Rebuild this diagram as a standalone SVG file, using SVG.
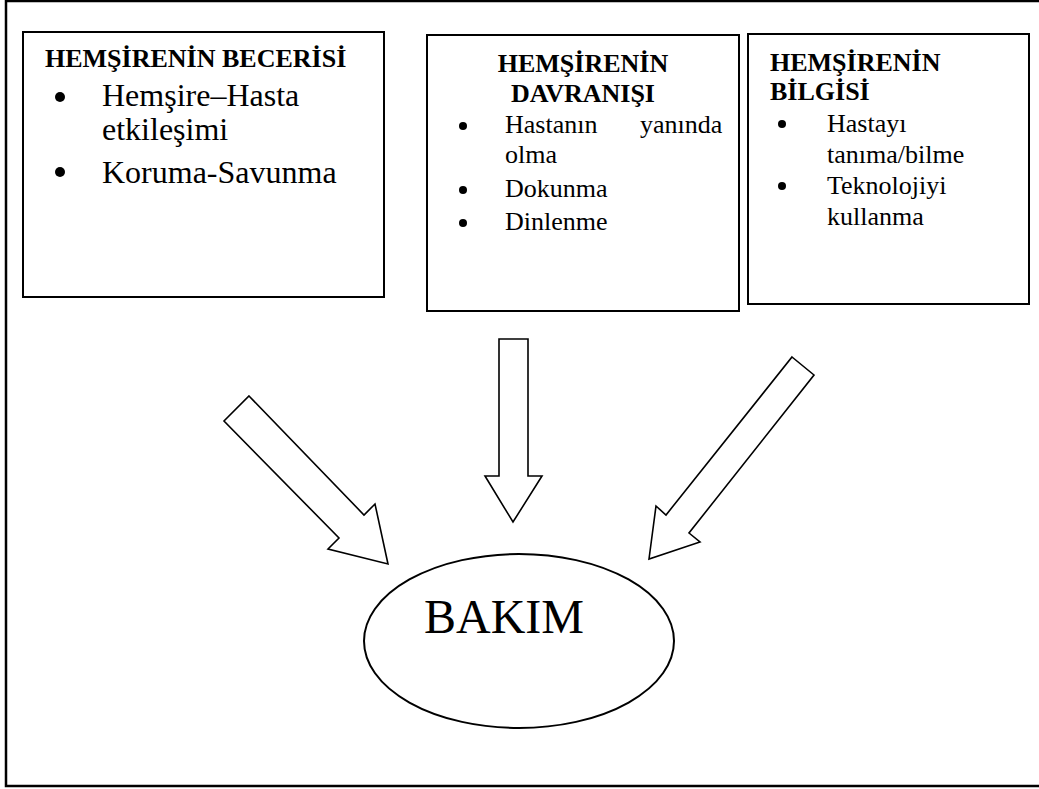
<svg xmlns="http://www.w3.org/2000/svg" width="1039" height="789" viewBox="0 0 1039 789">
<style>
.frame{fill:none;stroke:#000;stroke-width:2.5}
.box{fill:#fff;stroke:#000;stroke-width:2}
.arrow{fill:#fff;stroke:#000;stroke-width:1.6;stroke-linejoin:miter}
text{font-family:'Liberation Serif','Times New Roman',serif;fill:#000}
.title{font-weight:bold;font-size:26px}
.item{font-size:26px}
.big{font-size:32px}
.dot{fill:#000}
</style>
<rect width="1039" height="789" fill="#fff"/>
<rect class="frame" x="6" y="1" width="1036" height="785"/>

<g id="node-beceri">
<rect class="box" x="23" y="32" width="361" height="265"/>
<text class="title" x="45" y="67">HEMŞİRENİN BECERİSİ</text>
<circle class="dot" cx="60" cy="97" r="5"/>
<text class="big" x="102" y="106">Hemşire–Hasta</text>
<text class="big" x="102" y="140">etkileşimi</text>
<circle class="dot" cx="60" cy="172" r="5"/>
<text class="big" x="102" y="183">Koruma-Savunma</text>
</g>

<g id="node-davranis">
<rect class="box" x="427" y="35" width="312" height="276"/>
<text class="title" x="583" y="72" text-anchor="middle">HEMŞİRENİN</text>
<text class="title" x="583" y="102" text-anchor="middle">DAVRANIŞI</text>
<circle class="dot" cx="463" cy="126" r="4"/>
<text class="item" y="133"><tspan x="505">Hastanın</tspan> <tspan x="640">yanında</tspan></text>
<text class="item" x="505" y="163">olma</text>
<circle class="dot" cx="463" cy="190" r="4"/>
<text class="item" x="505" y="197">Dokunma</text>
<circle class="dot" cx="463" cy="223" r="4"/>
<text class="item" x="505" y="230">Dinlenme</text>
</g>

<g id="node-bilgi">
<rect class="box" x="748" y="34" width="281" height="270"/>
<text class="title" x="770" y="71">HEMŞİRENİN</text>
<text class="title" x="770" y="100">BİLGİSİ</text>
<circle class="dot" cx="782" cy="124" r="4"/>
<text class="item" x="827" y="132">Hastayı</text>
<text class="item" x="827" y="163">tanıma/bilme</text>
<circle class="dot" cx="782" cy="186" r="4"/>
<text class="item" x="827" y="194">Teknolojiyi</text>
<text class="item" x="827" y="225">kullanma</text>
</g>

<g id="node-bakim">
<ellipse class="box" cx="519" cy="641" rx="155" ry="87" stroke-width="1.8"/>
<text x="504" y="633" font-size="48" text-anchor="middle">BAKIM</text>
</g>

<g id="connectors">
<polygon class="arrow" points="249,396 364,515 375,504 388,564 328,549 339,538 224,421"/>
<polygon class="arrow" points="499,339 528,339 528,476 542,476 513,522 485,476 499,476"/>
<polygon class="arrow" points="792,357 814,375 689,533 700,542 649,559 656,506 666,515"/>
</g>
</svg>
